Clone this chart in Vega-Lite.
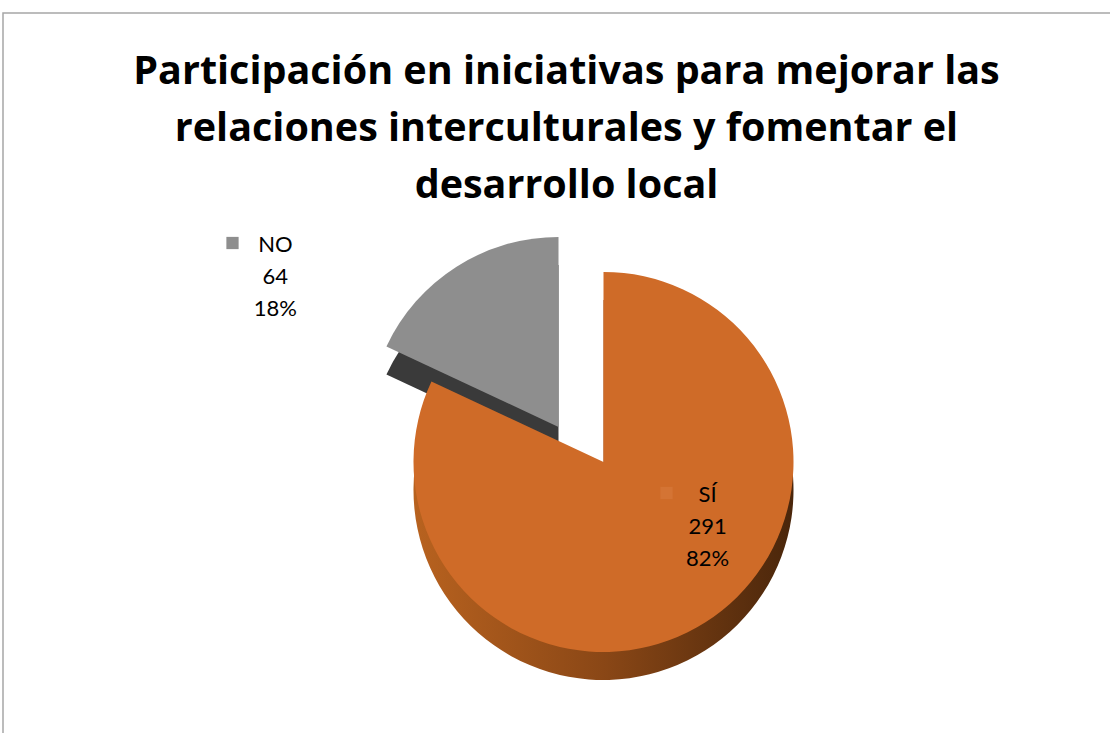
{
  "$schema": "https://vega.github.io/schema/vega-lite/v6.json",
  "width": 1110,
  "height": 733,
  "autosize": {"type": "fit", "contains": "padding"},
  "padding": {"left": 3, "top": 13, "right": -4, "bottom": -4},
  "background": "white",
  "view": {"stroke": "#a6a6a6", "strokeWidth": 1.5},
  "config": {"view": {"stroke": "#a6a6a6", "strokeWidth": 1.5}},
  "title": {
    "text": ["Participación en iniciativas para mejorar las", "relaciones interculturales y fomentar el", "desarrollo local"],
    "font": "Open Sans",
    "fontSize": 39.5,
    "fontWeight": "bold",
    "color": "#000000",
    "lineHeight": 57,
    "anchor": "middle",
    "offset": -193,
    "dx": 8
  },
  "data": {
    "values": [
      {"cat": "SÍ", "value": 291, "order": 1},
      {"cat": "NO", "value": 64, "order": 2}
    ]
  },
  "transform": [
    {"stack": "value", "groupby": [], "as": ["v0", "v1"], "sort": [{"field": "order", "order": "ascending"}]},
    {"joinaggregate": [{"op": "sum", "field": "value", "as": "total"}]},
    {"calculate": "(datum.v0 + datum.v1) / 2", "as": "mid"},
    {"calculate": "datum.cat + '\\n' + datum.value + '\\n' + format(datum.value / datum.total, '.0%')", "as": "label"}
  ],
  "layer": [
    {
      "transform": [{"filter": "datum.cat == 'NO'"}],
      "mark": {"type": "arc", "radius": 190, "xOffset": 0, "yOffset": 80, "fill": "#3a3a3a"},
      "encoding": {
        "theta": {"field": "v0", "type": "quantitative", "scale": {"domain": [0, 355]}},
        "theta2": {"field": "v1"}
      }
    },
    {
      "transform": [{"filter": "datum.cat == 'NO'"}],
      "mark": {"type": "arc", "radius": 190, "xOffset": 0, "yOffset": 52, "fill": "#8e8e8e"},
      "encoding": {
        "theta": {"field": "v0", "type": "quantitative", "scale": {"domain": [0, 355]}},
        "theta2": {"field": "v1"}
      }
    },
    {
      "transform": [{"filter": "datum.cat == 'SÍ'"}],
      "mark": {
        "type": "arc", "radius": 190, "xOffset": 45, "yOffset": 115,
        "fill": {"gradient": "linear", "x1": 0, "y1": 0, "x2": 1, "y2": 0,
          "stops": [{"offset": 0, "color": "#b8621f"}, {"offset": 0.5, "color": "#8a4716"}, {"offset": 1, "color": "#4a260b"}]}
      },
      "encoding": {
        "theta": {"field": "v0", "type": "quantitative", "scale": {"domain": [0, 355]}},
        "theta2": {"field": "v1"}
      }
    },
    {
      "transform": [{"filter": "datum.cat == 'SÍ'"}],
      "mark": {"type": "arc", "radius": 190, "xOffset": 45, "yOffset": 87, "fill": "#cf6b28"},
      "encoding": {
        "theta": {"field": "v0", "type": "quantitative", "scale": {"domain": [0, 355]}},
        "theta2": {"field": "v1"}
      }
    },
    {
      "transform": [{"filter": "datum.cat == 'SÍ'"}],
      "mark": {"type": "text", "radius": 110, "xOffset": 45, "yOffset": 87, "dx": 45, "dy": -60,
        "font": "Lato", "fontSize": 22, "lineHeight": 32, "lineBreak": "\n", "align": "center", "baseline": "middle", "color": "#000000"},
      "encoding": {
        "theta": {"field": "mid", "type": "quantitative", "scale": {"domain": [0, 355]}},
        "text": {"field": "label"}
      }
    },
    {
      "transform": [{"filter": "datum.cat == 'NO'"}],
      "mark": {"type": "text", "radius": 250, "xOffset": 0, "yOffset": 52, "dx": -149, "dy": 29,
        "font": "Lato", "fontSize": 22, "lineHeight": 32, "lineBreak": "\n", "align": "center", "baseline": "middle", "color": "#000000"},
      "encoding": {
        "theta": {"field": "mid", "type": "quantitative", "scale": {"domain": [0, 355]}},
        "text": {"field": "label"}
      }
    },
    {
      "transform": [{"filter": "datum.cat == 'NO'"}],
      "mark": {"type": "point", "shape": "square", "filled": true, "size": 150, "xOffset": -326, "yOffset": -132, "color": "#8e8e8e", "opacity": 1},
      "encoding": {}
    },
    {
      "transform": [{"filter": "datum.cat == 'SÍ'"}],
      "mark": {"type": "point", "shape": "square", "filled": true, "size": 150, "xOffset": 108, "yOffset": 118, "color": "#d47434", "opacity": 1},
      "encoding": {}
    }
  ]
}
